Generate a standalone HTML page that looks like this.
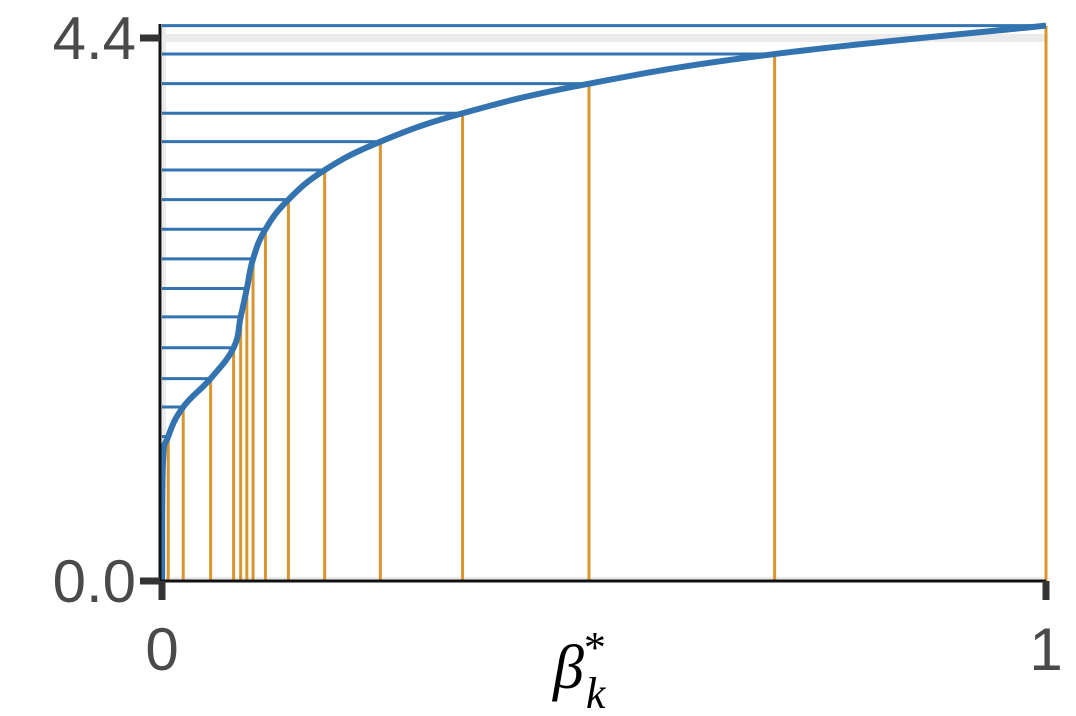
<!DOCTYPE html>
<html><head><meta charset="utf-8"><style>
html,body{margin:0;padding:0;background:#fff;width:1076px;height:716px;overflow:hidden}
</style></head><body>
<svg id="chart" width="1076" height="716" xmlns="http://www.w3.org/2000/svg"></svg>
<script>
const xValues=[0.001,0.007,0.024,0.055,0.081,0.089,0.096,0.103,0.117,0.143,0.184,0.247,0.340,0.483,0.693,1.0];
const yValues=[0.94,1.17,1.41,1.64,1.89,2.14,2.37,2.61,2.85,3.09,3.33,3.56,3.79,4.03,4.27,4.50];
const yTickLabels=["0.0","4.4"];const yTickVals=[0,4.4];
const xTickLabels=["0","1"];const xTickVals=[0,1];
const X0=162,X1=1046,Y0=581,Y44=38;
const sx=v=>X0+v*(X1-X0);
const sy=v=>Y0-v*(Y0-Y44)/4.4;
const svg=document.getElementById('chart');const NS='http://www.w3.org/2000/svg';
function mk(t,a,p){const e=document.createElementNS(NS,t);for(const k in a)e.setAttribute(k,a[k]);(p||svg).appendChild(e);return e;}
let g=mk('rect',{x:X0,y:sy(4.4)-4,width:X1-X0,height:8,fill:'#ebebeb'});


g=mk('rect',{x:X0,y:Y0-4,width:X1-X0,height:4,fill:'#ebebeb'});


g=mk('rect',{x:X0,y:24,width:4,height:Y0-24,fill:'#ebebeb'});


xValues.forEach((xv,i)=>{const l=mk('line',{x1:X0,x2:sx(xv),y1:sy(yValues[i]),y2:sy(yValues[i]),stroke:'#3373b0','stroke-width':3});

});
xValues.forEach((xv,i)=>{const l=mk('line',{x1:sx(xv),x2:sx(xv),y1:Y0,y2:sy(yValues[i]),stroke:'#d9952e','stroke-width':3});

});
const pts=[[sx(0),sy(0)]].concat(xValues.map((xv,i)=>[sx(xv),sy(yValues[i])]));
let d='M'+pts[0][0]+','+pts[0][1];
for(let i=0;i<pts.length-1;i++){const p0=pts[Math.max(0,i-1)],p1=pts[i],p2=pts[i+1],p3=pts[Math.min(pts.length-1,i+2)];
const t=0.2;const c1=[p1[0]+(p2[0]-p0[0])*t,p1[1]+(p2[1]-p0[1])*t],c2=[p2[0]-(p3[0]-p1[0])*t,p2[1]-(p3[1]-p1[1])*t];
d+=' C'+c1+' '+c2+' '+p2;}
const c=mk('path',{d:d,fill:'none',stroke:'#3373b0','stroke-width':6,'stroke-linejoin':'round'});


let a=mk('line',{x1:160,x2:160,y1:24,y2:Y0+1,stroke:'#111','stroke-width':3});


a=mk('line',{x1:159,x2:X1,y1:Y0,y2:Y0,stroke:'#111','stroke-width':3});


yTickVals.forEach((v,i)=>{const t=mk('line',{x1:140,x2:160,y1:sy(v),y2:sy(v),stroke:'#333','stroke-width':7});


const tx=mk('text',{x:136,y:sy(v)+21,'text-anchor':'end','font-family':'Liberation Sans, sans-serif','font-size':60,fill:'#4a4a4a'});
tx.textContent=yTickLabels[i];

});
xTickVals.forEach((v,i)=>{const t=mk('line',{x1:sx(v),x2:sx(v),y1:Y0,y2:600,stroke:'#333','stroke-width':7});


const tx=mk('text',{x:sx(v),y:670,'text-anchor':'middle','font-family':'Liberation Sans, sans-serif','font-size':60,fill:'#4a4a4a'});
tx.textContent=xTickLabels[i];

});
const lab=mk('text',{x:553,y:688,'font-family':'Liberation Serif, serif','font-style':'italic','font-size':62,fill:'#000'});


lab.innerHTML='β<tspan font-size="44" dy="-26" font-style="normal">*</tspan><tspan font-size="44" dx="-20" dy="46">k</tspan>';
</script>
</body></html>
